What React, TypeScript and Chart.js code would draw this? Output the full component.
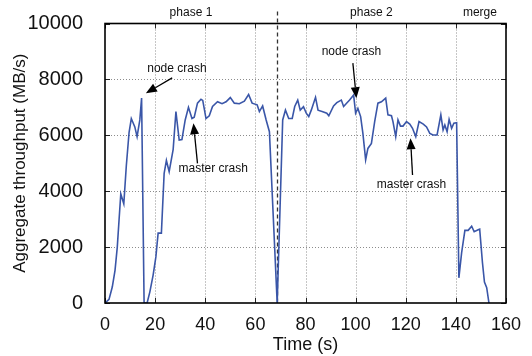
import React, { useEffect, useRef } from "react";
import Chart from "chart.js/auto";

// Aggregate throughput over time (seconds, MB/s)
const timeSec = [
  0, 1.6, 2.9, 4, 4.9, 5.6, 6.3, 7.5, 8.5, 9.6, 10.5, 11.9, 12.8, 13.9, 14.6, 15.6, 16.8,
  17.9, 19.2, 20.3, 21.2, 22.5, 23.6, 24.5, 25.6, 27.2, 28.3, 29.6, 30.7, 32, 33.3, 34.7,
  35.6, 36.9, 38.3, 39, 40.3, 41.6, 42.9, 44.9, 46.7, 48.3, 50, 51.6, 53.6, 55.6, 57.3,
  58.7, 60.7, 61.6, 62.9, 64.3, 65.6, 68.7, 70.9, 72, 73.3, 74.7, 75.7, 76.9, 77.9, 79.2,
  80.3, 81.3, 82.3, 84, 85, 86.9, 88.5, 89.3, 91.2, 92.5, 94.3, 95.2, 96.3, 97.6, 99.2,
  100, 100.9, 102, 102.9, 104, 104.9, 106.3, 107.6, 108.9, 110.3, 112, 112.9, 114.3,
  114.9, 116, 116.9, 117.9, 118.9, 120.3, 121.6, 122.7, 124, 125.3, 127, 128.3, 129.6,
  130.9, 132.5, 134, 134.9, 135.6, 136.5, 137.3, 138.3, 139.2, 140.3, 141.2, 142.3,
  143.6, 144.9, 146.3, 147.3, 148.9, 149.5, 150.6, 151.4, 152.3, 153.2,
];
const throughput = [
  0, 130, 570, 1170, 2000, 2960, 3900, 3550, 4900, 6100, 6600, 6300, 5950, 6550, 7330, 0, 0,
  400, 1000, 1650, 2500, 2500, 4640, 5100, 4700, 5500, 6850, 5830, 5850, 6550, 7000, 6600,
  6650, 7150, 7290, 7250, 6600, 6700, 7030, 7200, 7130, 7200, 7350, 7150, 7130, 7220, 7460,
  7150, 7090, 6850, 7050, 6550, 6130, 0, 6550, 6900, 6600, 6600, 7030, 7260, 6900, 7020,
  6790, 6670, 6900, 7360, 6900, 6840, 6790, 6700, 7050, 7170, 7260, 7030, 7140, 7260, 7440,
  6790, 6960, 6670, 6070, 5120, 5530, 5710, 6490, 7150, 7200, 7330, 6730, 6700,
  6490, 5950, 6550, 6330, 6330, 6490, 6400, 6250, 5950, 6490, 6400, 6300, 6070,
  6010, 6010, 6730, 6190, 6370, 6130, 6570, 6250, 6430, 6450, 900, 1800,
  2600, 2600, 2750, 2550, 2620, 2640, 1450, 750, 550, 0,
];

const xTickValues = [0, 20, 40, 60, 80, 100, 120, 140, 160];
const yTickValues = [0, 2000, 4000, 6000, 8000, 10000];

// Phase boundary and phase names shown above the plot
const phaseBoundary = 68.7;
const phaseNames = ["phase 1", "phase 2", "merge"];
const phaseCenters = [34.3, 106.3, 149.6];

// Crash events: label anchor and arrow from/to, in (time, MB/s)
const crashLabels = ["node crash", "master crash", "node crash", "master crash"];
const crashTextAt = [[28.7, 8400], [43.2, 4817], [98.3, 9000], [122.3, 4244]];
const crashArrowFrom = [[26.8, 8054], [36.9, 4996], [98.9, 8580], [122.7, 4577]];
const crashArrowTo = [[16.3, 7505], [35.3, 6430], [100.3, 7326], [121.9, 5892]];

const FONT = "'Liberation Sans', Arial, Helvetica, sans-serif";

const overlay = {
  id: "overlay",
  beforeDatasetsDraw(chart: any) {
    const { ctx, chartArea: a, scales } = chart;
    const x = scales.x;
    const y = scales.y;
    ctx.save();
    // dotted grid
    ctx.strokeStyle = "#8c8c8c";
    ctx.lineWidth = 1;
    ctx.setLineDash([1, 2]);
    for (const v of xTickValues) {
      const px = Math.round(x.getPixelForValue(v)) + 0.5;
      if (px < a.left + 2 || px > a.right - 2) continue;
      ctx.beginPath();
      ctx.moveTo(px, a.top);
      ctx.lineTo(px, a.bottom);
      ctx.stroke();
    }
    for (const v of yTickValues) {
      const py = Math.round(y.getPixelForValue(v)) + 0.5;
      if (py < a.top + 2 || py > a.bottom - 2) continue;
      ctx.beginPath();
      ctx.moveTo(a.left, py);
      ctx.lineTo(a.right, py);
      ctx.stroke();
    }
    // inward tick marks on all four sides
    ctx.setLineDash([]);
    ctx.strokeStyle = "#222";
    const tl = 5;
    for (const v of xTickValues) {
      const px = Math.round(x.getPixelForValue(v)) + 0.5;
      ctx.beginPath();
      ctx.moveTo(px, a.bottom);
      ctx.lineTo(px, a.bottom - tl);
      ctx.moveTo(px, a.top);
      ctx.lineTo(px, a.top + tl);
      ctx.stroke();
    }
    for (const v of yTickValues) {
      const py = Math.round(y.getPixelForValue(v)) + 0.5;
      ctx.beginPath();
      ctx.moveTo(a.left, py);
      ctx.lineTo(a.left + tl, py);
      ctx.moveTo(a.right, py);
      ctx.lineTo(a.right - tl, py);
      ctx.stroke();
    }
    // phase boundary
    const bx = Math.round(x.getPixelForValue(phaseBoundary)) + 0.5;
    ctx.strokeStyle = "#333";
    ctx.lineWidth = 1.3;
    ctx.setLineDash([4, 3]);
    ctx.beginPath();
    ctx.moveTo(bx, a.top - 12);
    ctx.lineTo(bx, a.bottom);
    ctx.stroke();
    ctx.restore();
  },
  afterDatasetsDraw(chart: any) {
    const { ctx, chartArea: a, scales } = chart;
    const x = scales.x;
    const y = scales.y;
    ctx.save();
    // frame
    ctx.strokeStyle = "#000";
    ctx.lineWidth = 1.6;
    ctx.strokeRect(a.left, a.top, a.right - a.left, a.bottom - a.top);

    // phase names
    ctx.fillStyle = "#111";
    ctx.font = `12px ${FONT}`;
    ctx.textAlign = "center";
    ctx.textBaseline = "middle";
    phaseNames.forEach((name, i) => {
      ctx.fillText(name, x.getPixelForValue(phaseCenters[i]), a.top - 10.5);
    });

    // crash annotations
    crashLabels.forEach((label, i) => {
      ctx.fillStyle = "#111";
      ctx.fillText(label, x.getPixelForValue(crashTextAt[i][0]), y.getPixelForValue(crashTextAt[i][1]));
      const x0 = x.getPixelForValue(crashArrowFrom[i][0]);
      const y0 = y.getPixelForValue(crashArrowFrom[i][1]);
      const x1 = x.getPixelForValue(crashArrowTo[i][0]);
      const y1 = y.getPixelForValue(crashArrowTo[i][1]);
      const ang = Math.atan2(y1 - y0, x1 - x0);
      const hl = 11;
      const hw = 4.5;
      const bxp = x1 - hl * Math.cos(ang);
      const byp = y1 - hl * Math.sin(ang);
      ctx.strokeStyle = "#000";
      ctx.lineWidth = 1.3;
      ctx.beginPath();
      ctx.moveTo(x0, y0);
      ctx.lineTo(bxp, byp);
      ctx.stroke();
      ctx.fillStyle = "#000";
      ctx.beginPath();
      ctx.moveTo(x1, y1);
      ctx.lineTo(bxp + hw * Math.sin(ang), byp - hw * Math.cos(ang));
      ctx.lineTo(bxp - hw * Math.sin(ang), byp + hw * Math.cos(ang));
      ctx.closePath();
      ctx.fill();
    });
    ctx.restore();
  },
};

export default function App() {
  const canvasRef = useRef<HTMLCanvasElement | null>(null);

  useEffect(() => {
    const canvas = canvasRef.current;
    if (!canvas) return;
    const points = timeSec.map((t, i) => ({ x: t, y: throughput[i] }));
    const chart = new Chart(canvas, {
      type: "line",
      data: {
        datasets: [
          {
            data: points,
            borderColor: "#3a56a8",
            borderWidth: 1.6,
            pointRadius: 0,
            tension: 0,
            fill: false,
          },
        ],
      },
      options: {
        responsive: false,
        animation: false,
        events: [],
        layout: { padding: { top: 23.5, right: 26, left: 0, bottom: 0 } },
        plugins: { legend: { display: false }, tooltip: { enabled: false } },
        scales: {
          x: {
            type: "linear",
            min: 0,
            max: 160,
            grid: { display: false },
            border: { display: false },
            ticks: {
              stepSize: 20,
              padding: 3,
              color: "#111",
              font: { family: FONT, size: 18 },
              maxRotation: 0,
              callback: (v: any) => String(v),
            },
            title: {
              display: true,
              text: "Time (s)",
              color: "#111",
              font: { family: FONT, size: 18 },
              padding: { top: 0, bottom: 0 },
            },
            afterFit(scale: any) {
              scale.height = 53;
              scale.paddingLeft = 0;
              scale.paddingRight = 0;
            },
          },
          y: {
            min: 0,
            max: 10000,
            grid: { display: false },
            border: { display: false },
            ticks: {
              stepSize: 2000,
              padding: 14,
              color: "#111",
              font: { family: FONT, size: 20 },
              callback: (v: any) => String(v),
            },
            title: {
              display: true,
              text: "Aggregate throughput (MB/s)",
              color: "#111",
              font: { family: FONT, size: 17 },
              padding: { top: 10, bottom: 0 },
            },
            afterFit(scale: any) {
              scale.width = 105;
              scale.paddingTop = 0;
              scale.paddingBottom = 0;
            },
          },
        },
      },
      plugins: [overlay],
    });
    return () => chart.destroy();
  }, []);

  return (
    <div style={{ position: "absolute", left: 0, top: 0, width: 532, height: 356, background: "#fff" }}>
      <canvas ref={canvasRef} width={532} height={356} style={{ display: "block" }} />
    </div>
  );
}
